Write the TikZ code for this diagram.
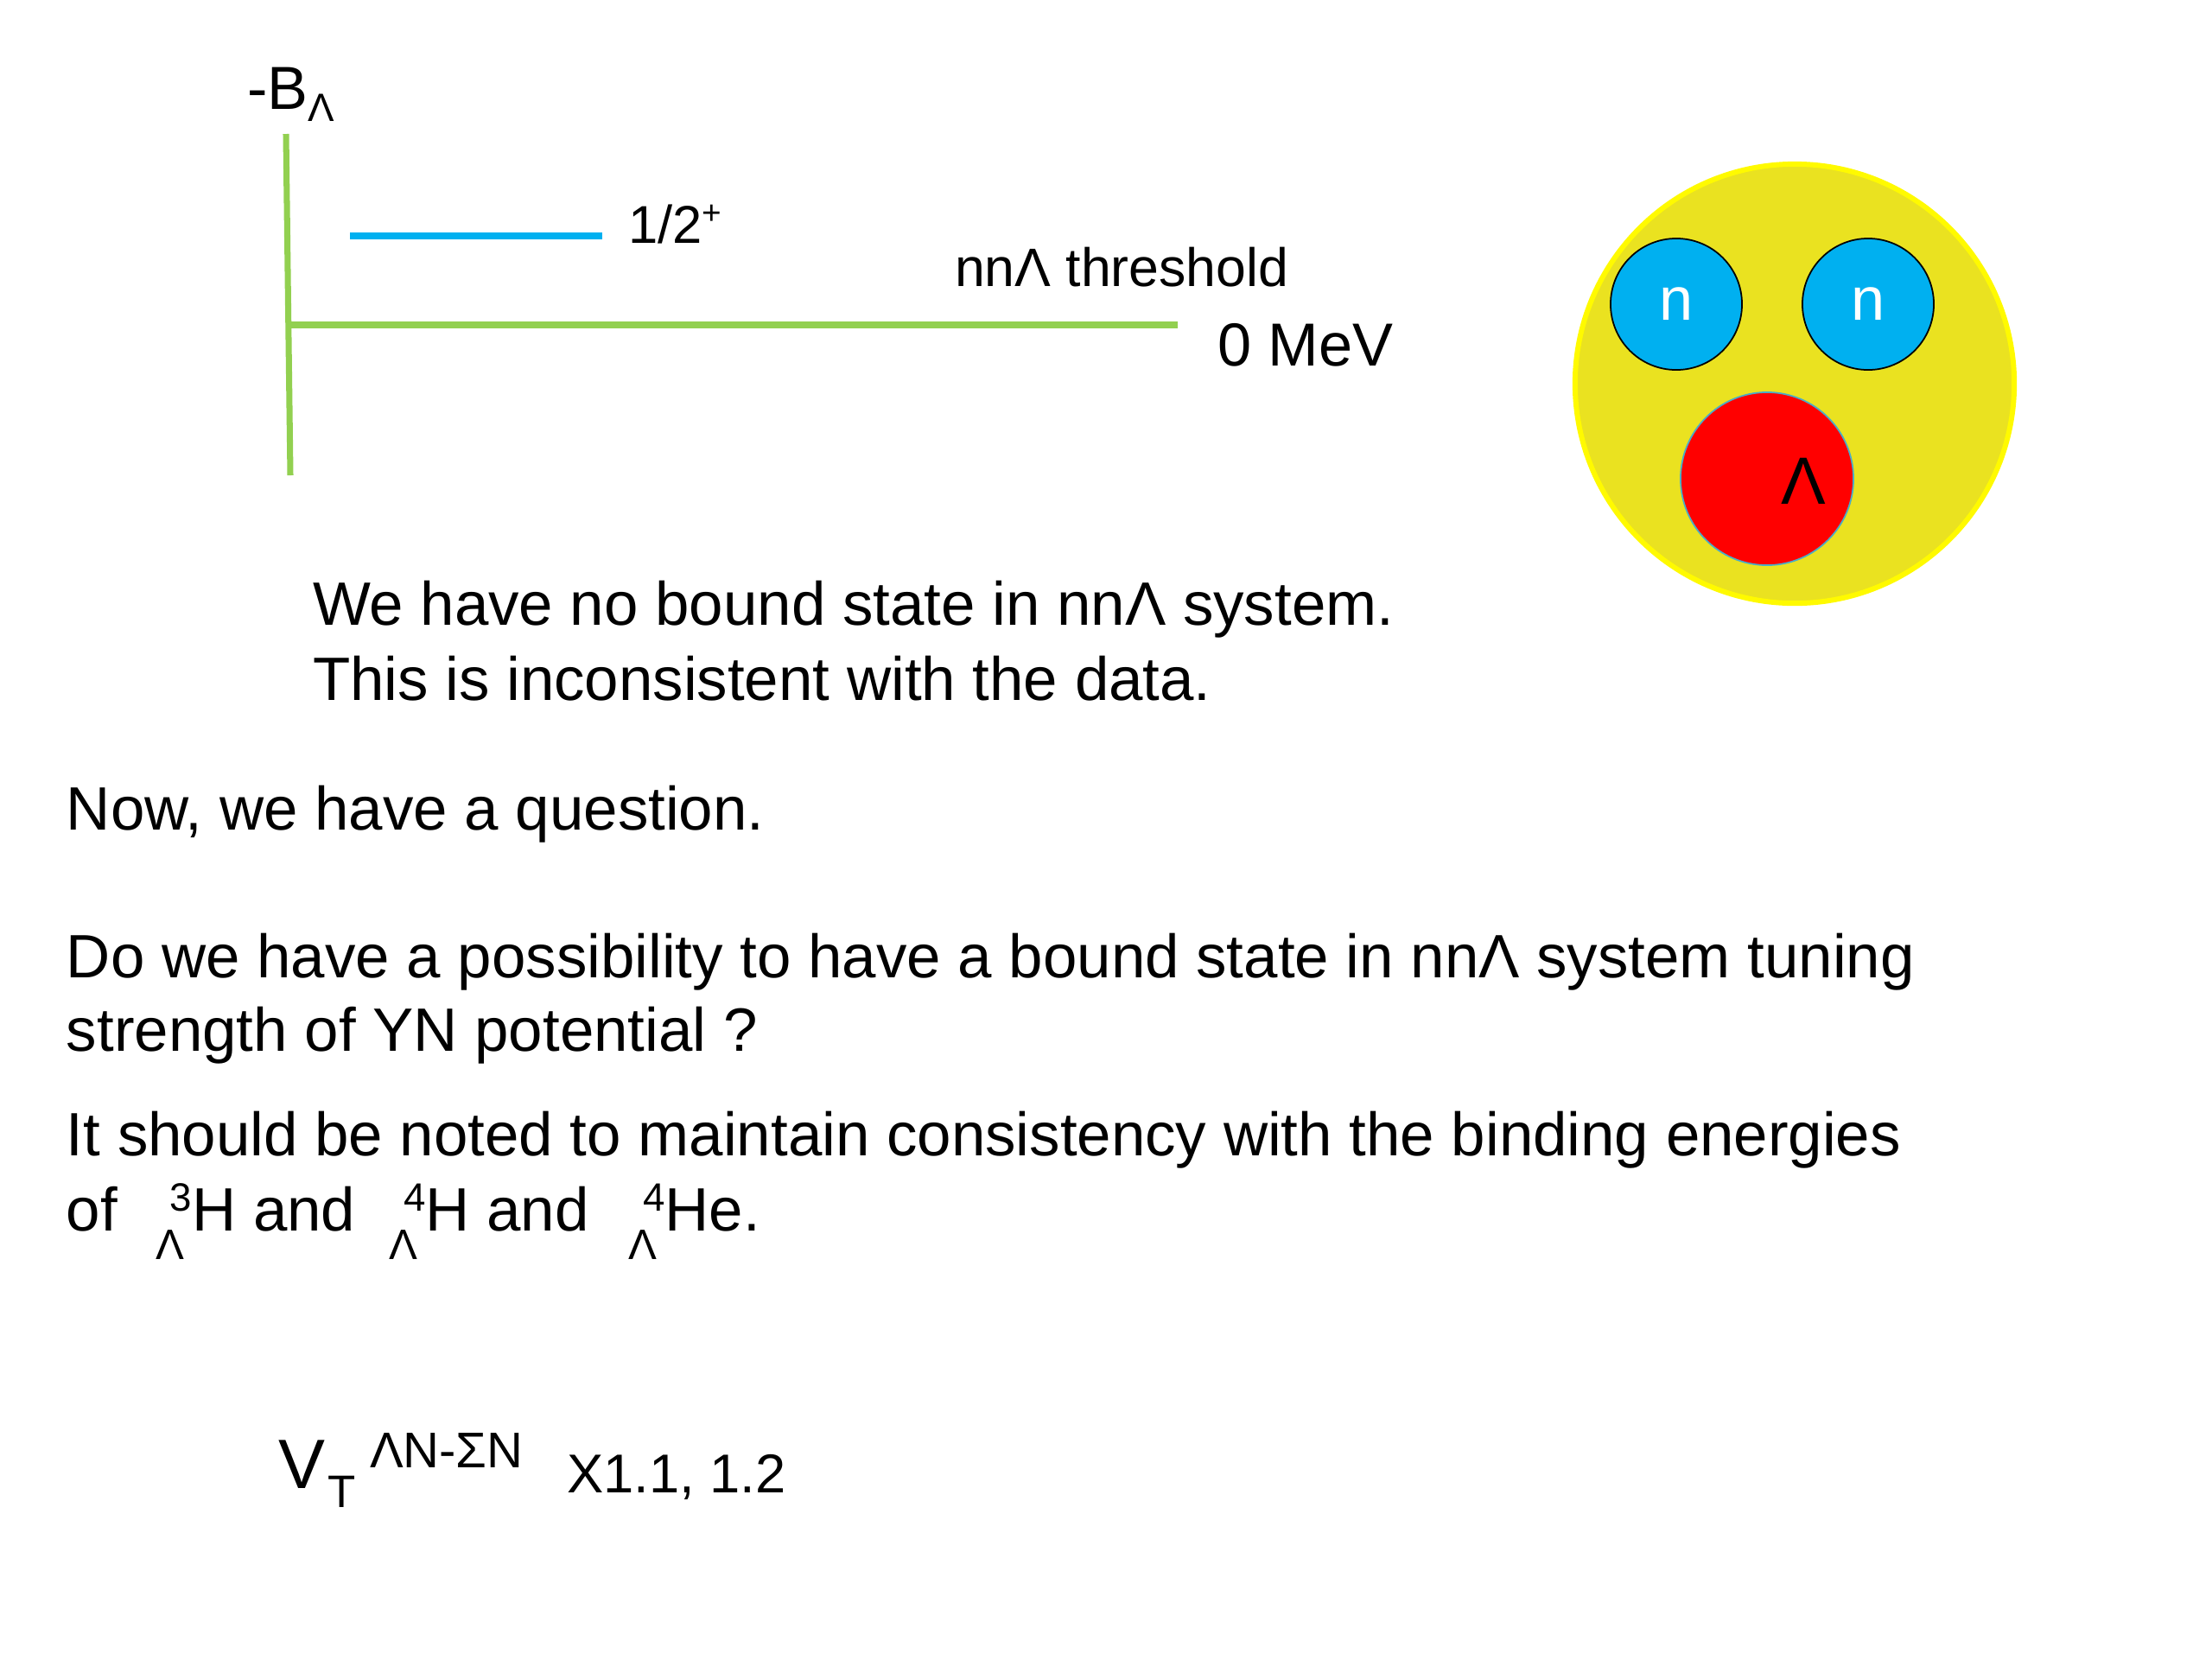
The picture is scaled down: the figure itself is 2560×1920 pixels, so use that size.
\documentclass[tikz,border=0pt]{standalone}
\usepackage{fontspec}
\setmainfont{Liberation Sans}
\usetikzlibrary{positioning}

\definecolor{levelgreen}{RGB}{146,208,80}
\definecolor{levelblue}{RGB}{0,176,240}
\definecolor{coreyellow}{RGB}{234,226,32}
\definecolor{rimyellow}{RGB}{255,250,0}
\definecolor{lambdared}{RGB}{255,0,0}
\definecolor{lambdarim}{RGB}{75,172,198}

\newcommand{\fs}[1]{\fontsize{#1}{#1}\selectfont}
\newcommand{\hypnuc}[2]{%
    \rlap{\raisebox{-9.5pt}{\fs{14}Λ}}\kern4.8pt\raisebox{6.5pt}{\fs{13}#1}#2}

\begin{document}
\begin{tikzpicture}[
    x=0.01cm, y=-0.01cm,
    every node/.style={inner sep=0pt, outer sep=0pt},
    level/.style={line width=2pt},
    body/.style={anchor=base west, font=\fs{20.15}},
    label/.style={anchor=base west, font=\fs{#1}},
    neutron/.style={
        circle,
        draw=black,
        line width=0.5pt,
        fill=levelblue,
        minimum size=1.52cm,
        text=white,
        font=\fs{20}
    },
    lambda/.style={
        circle,
        draw=lambdarim,
        line width=0.5pt,
        fill=lambdared,
        minimum size=2.0cm
    }
]
\useasboundingbox (0,0) rectangle (2560,1920);

% level scheme
\coordinate (axtop) at (331,155);
\coordinate (axbot) at (336,550);
\coordinate (zero) at (336,376);
\coordinate (thr) at (1363,376);
\coordinate (lvl) at (405,273);
\coordinate (lvlend) at (697,273);
\draw[level, levelgreen] (axtop) -- (axbot);
\draw[level, levelgreen] (zero) -- (thr);
\draw[level, levelblue] (lvl) -- (lvlend);

\node[label=20] (bind) at (286,126) {-B\raisebox{-4pt}{\fs{13}Λ}};
\node[label=17.5] (spin) at (727,281) {1/2\raisebox{6pt}{\fs{11}+}};
\node[label=17.8] (thrlab) at (1105,331) {nnΛ threshold};
\node[label=20] (mev) at (1409,423) {0 MeV};

% nnL picture
\node[circle, fill=coreyellow, draw=rimyellow, line width=1.7pt,
    minimum size=5.08cm] (core) at (2077,444) {};
\node[neutron] (n1) at (1940,352) {n};
\node[neutron] (n2) at (2162,352) {n};
\node[lambda] (lam) at (2045,554) {};
\node[font=\fs{22}] (lamlab) at (2087,557) {Λ};

% text
\node[body] (res1) at (362,723) {We have no bound state in nnΛ system.};
\node[body] (res2) at (362,810) {This is inconsistent with the data.};
\node[body] (ask) at (77,960) {Now, we have a question.};
\node[body] (ask1) at (77,1131) {Do we have a possibility to have a bound state in nnΛ system tuning};
\node[body] (ask2) at (77,1216) {strength of YN potential ?};
\node[body] (note1) at (77,1337) {It should be noted to maintain consistency with the binding energies};
\node[body] (note2) at (77,1424) {of\hspace{12.5pt}\hypnuc{3}{H} and\hspace{11pt}\hypnuc{4}{H} and\hspace{13pt}\hypnuc{4}{He}.};

% potential scaling
\node[label=23] (pot) at (322,1722) {V};
\node[label=15] (potsub) at (379,1744) {T};
\node[label=16.5] (potsup) at (428,1698) {ΛN-ΣN};
\node[label=18] (factor) at (656,1727) {X1.1, 1.2};

\end{tikzpicture}
\end{document}
